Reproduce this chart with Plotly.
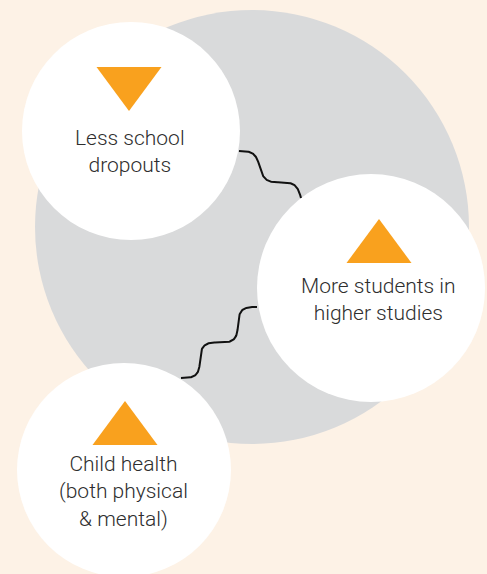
import numpy as np
import plotly.graph_objects as go

# ---- content ----
labels = ["Less school<br>dropouts", "More students in<br>higher studies", "Child health<br>(both physical<br>& mental)"]
directions = ["down", "up", "up"]
links = [(0, 1, 1.5), (2, 1, 2.0)]  # (from node, to node, wave periods)

# ---- layout (pixel space) ----
W, H = 487, 574
BG = "#fdf2e6"
GRAY = "#d9dadb"
ORANGE = "#f9a11e"
TEXT = "#2e2e2e"

big_circle = (252, 227, 217)
node_centers = [(131, 131), (371, 288), (124, 470)]
node_radii = [109, 114, 107]
tri_centers = [(129, 89), (379, 241), (125, 423)]
tri_w, tri_h = 65, 44
text_centers = [(130, 151), (378, 299), (123, 491)]
link_ends = [((239, 151), (301, 198)), ((181, 378), (257, 307))]

fig = go.Figure()
shapes = []
cx, cy, r = big_circle
shapes.append(dict(type="circle", xref="x", yref="y", x0=cx - r, x1=cx + r, y0=cy - r, y1=cy + r,
                   fillcolor=GRAY, line=dict(width=0), layer="below"))
for (x, y), rr in zip(node_centers, node_radii):
    shapes.append(dict(type="circle", xref="x", yref="y", x0=x - rr, x1=x + rr, y0=y - rr, y1=y + rr,
                       fillcolor="white", line=dict(width=0), layer="below"))

# wavy connectors
for (a, b), (_, _, n) in zip(link_ends, links):
    A = np.array(a, float)
    B = np.array(b, float)
    d = B - A
    L = np.linalg.norm(d)
    u = d / L
    perp = np.array([u[1], -u[0]])
    if perp[1] * d[1] > 0:
        perp = -perp
    amp = -d[1] / (2 * np.pi * n * perp[1])
    t = np.linspace(0, 1, 200)
    pts = A[None, :] + t[:, None] * d[None, :] + (amp * np.sin(2 * np.pi * n * t))[:, None] * perp[None, :]
    fig.add_trace(go.Scatter(x=pts[:, 0], y=pts[:, 1], mode="lines",
                             line=dict(color="#111111", width=2), hoverinfo="skip", showlegend=False))

# triangles
for (x, y), dirn in zip(tri_centers, directions):
    xs = [x - tri_w / 2, x + tri_w / 2, x, x - tri_w / 2]
    if dirn == "down":
        ys = [y - tri_h / 2, y - tri_h / 2, y + tri_h / 2, y - tri_h / 2]
    else:
        ys = [y + tri_h / 2, y + tri_h / 2, y - tri_h / 2, y + tri_h / 2]
    fig.add_trace(go.Scatter(x=xs, y=ys, mode="lines", fill="toself", fillcolor=ORANGE,
                             line=dict(width=0, color=ORANGE), hoverinfo="skip", showlegend=False))

annotations = []
for (x, y), lab in zip(text_centers, labels):
    annotations.append(dict(x=x, y=y, xref="x", yref="y", text=lab, showarrow=False,
                            font=dict(family="Roboto", size=21, color=TEXT, weight=300),
                            align="center", xanchor="center", yanchor="middle"))

fig.update_layout(
    width=W, height=H, margin=dict(l=0, r=0, t=0, b=0),
    paper_bgcolor=BG, plot_bgcolor=BG,
    shapes=shapes, annotations=annotations, showlegend=False,
    xaxis=dict(range=[0, W], visible=False, fixedrange=True),
    yaxis=dict(range=[H, 0], visible=False, fixedrange=True),
)
fig.write_html("out.html", config={"displayModeBar": False},
               post_script="document.body.style.margin='0';document.body.style.overflow='hidden';")
